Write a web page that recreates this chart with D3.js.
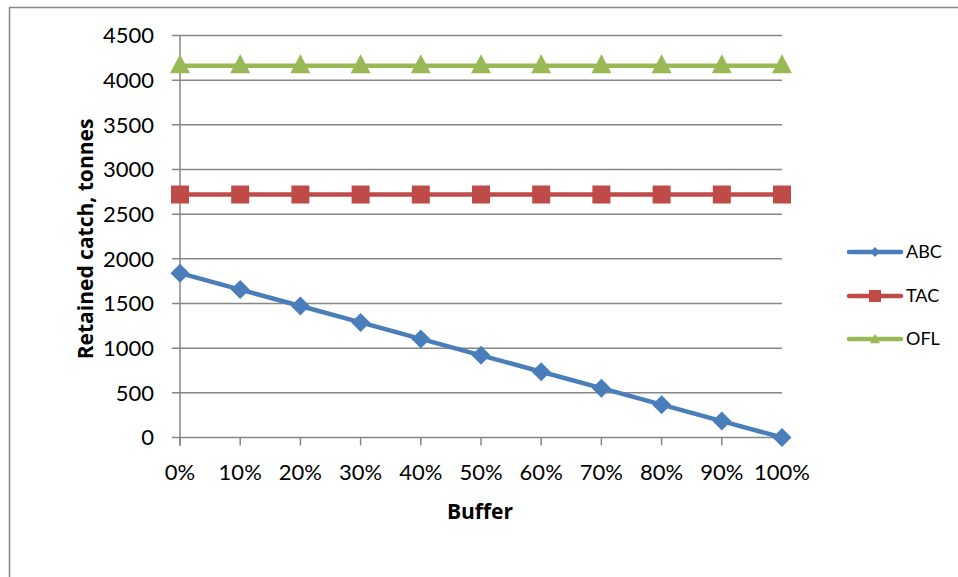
<!DOCTYPE html>
<html><head><meta charset="utf-8">
<script src="https://cdn.jsdelivr.net/npm/d3@7"></script>
<style>body{margin:0;background:#fff}svg{display:block}</style>
</head><body>
<script>
const categories = ["0%","10%","20%","30%","40%","50%","60%","70%","80%","90%","100%"];
const abc = [1840,1656,1472,1288,1104,920,736,552,368,184,0];
const tac = [2720,2720,2720,2720,2720,2720,2720,2720,2720,2720,2720];
const ofl = [4160,4160,4160,4160,4160,4160,4160,4160,4160,4160,4160];
const yTicks = [0,500,1000,1500,2000,2500,3000,3500,4000,4500];
const seriesNames = ["ABC","TAC","OFL"];
const seriesColors = ["#4a7ebb","#be4b48","#98b954"];

const W=958,H=577;
const svg=d3.select("body").append("svg").attr("width",W).attr("height",H);
const font="Lato, 'Open Sans', sans-serif";
const tfont="'Open Sans', Lato, sans-serif";
svg.append("rect").attr("x",9.5).attr("y",7.5).attr("width",W+10).attr("height",H+10)
  .attr("fill","#fff").attr("stroke","#868686").attr("stroke-width",1.5);

const x=d3.scalePoint().domain(categories).range([180,782]);
const y=d3.scaleLinear().domain([0,4500]).range([437.5,35.5]);

// custom marker shapes (size = half width)
const diamond={draw(c,s){c.moveTo(0,-s);c.lineTo(s,0);c.lineTo(0,s);c.lineTo(-s,0);c.closePath();}};
const square={draw(c,s){c.rect(-s,-s,2*s,2*s);}};
const triangle={draw(c,s){c.moveTo(0,-s*1.05);c.lineTo(s,s*0.85);c.lineTo(-s,s*0.85);c.closePath();}};
const shapes=[diamond,square,triangle];

// gridlines
svg.append("g").selectAll("line").data(yTicks).join("line")
  .attr("x1",172).attr("x2",782).attr("y1",d=>y(d)).attr("y2",d=>y(d))
  .attr("stroke","#868686").attr("stroke-width",1.5);
// y axis line
svg.append("line").attr("x1",180).attr("x2",180).attr("y1",y(4500)).attr("y2",y(0)+8)
  .attr("stroke","#868686").attr("stroke-width",1.5);
// x ticks
svg.append("g").selectAll("line").data(categories).join("line")
  .attr("x1",d=>x(d)).attr("x2",d=>x(d)).attr("y1",y(0)).attr("y2",y(0)+8)
  .attr("stroke","#868686").attr("stroke-width",1.5);
// y tick labels
svg.append("g").selectAll("text").data(yTicks).join("text")
  .attr("x",154).attr("y",d=>y(d)).attr("dy","0.36em").attr("text-anchor","end")
  .attr("font-family",font).attr("font-size",22).attr("fill","#000").text(d=>d);
// x tick labels
svg.append("g").selectAll("text").data(categories).join("text")
  .attr("x",d=>x(d)).attr("y",480).attr("text-anchor","middle")
  .attr("font-family",font).attr("font-size",22).attr("fill","#000").text(d=>d);
// axis titles
svg.append("text").attr("x",480).attr("y",519).attr("text-anchor","middle")
  .attr("font-family",tfont).attr("font-size",21).attr("font-weight","bold").text("Buffer");
svg.append("text").attr("transform","translate(93,239) rotate(-90)").attr("text-anchor","middle")
  .attr("font-family",tfont).attr("font-size",21).attr("font-weight","bold").text("Retained catch, tonnes");

const data=[abc,tac,ofl];
const msz=[9.5,9,10];
const line=d3.line().x((d,i)=>x(categories[i])).y(d=>y(d));
data.forEach((vals,k)=>{
  svg.append("path").attr("d",line(vals)).attr("fill","none")
    .attr("stroke",seriesColors[k]).attr("stroke-width",4.5).attr("stroke-linejoin","round");
  svg.append("g").selectAll("path").data(vals).join("path")
    .attr("transform",(d,i)=>`translate(${x(categories[i])},${y(d)-(k===2?1:0)})`)
    .attr("d",d3.symbol().type(shapes[k]).size(msz[k])).attr("fill",seriesColors[k]);
});

// legend
const ly=[252,296,339];
seriesNames.forEach((n,k)=>{
  svg.append("line").attr("x1",849).attr("x2",901).attr("y1",ly[k]).attr("y2",ly[k])
    .attr("stroke",seriesColors[k]).attr("stroke-width",4.5).attr("stroke-linecap","round");
  svg.append("path").attr("transform",`translate(875,${ly[k]})`)
    .attr("d",d3.symbol().type(shapes[k]).size([5,6,5][k])).attr("fill",seriesColors[k]);
  svg.append("text").attr("x",906).attr("y",ly[k]).attr("dy","0.36em")
    .attr("font-family",font).attr("font-size",18).text(n);
});
</script>
</body></html>
